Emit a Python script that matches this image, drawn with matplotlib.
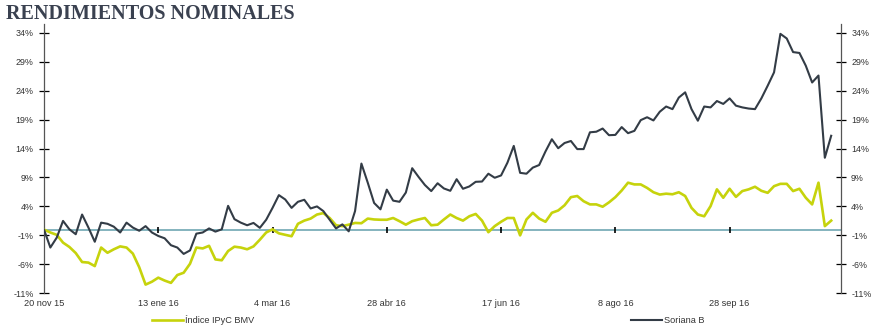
"""Rendimientos nominales: IPyC BMV vs Soriana B."""

# %%
import matplotlib.pyplot as plt
import numpy as np

# %% Data (one value every 2nd trading session)

fechas = ["20 nov 15", "13 ene 16", "4 mar 16", "28 abr 16",
          "17 jun 16", "8 ago 16", "28 sep 16"]
fecha_idx = [0, 36, 72, 108, 144, 180, 216]
sesiones = np.arange(0, 250, 2)

ipyc = [
    0.0, -0.5, -0.9, -2.25, -3.0, -4.05, -5.6, -5.7, -6.3, -3.1, -4.0, -3.4,
    -2.9, -3.1, -4.15, -6.5, -9.5, -9.0, -8.3, -8.8, -9.2, -7.85, -7.45, -5.9,
    -3.1, -3.25, -2.8, -5.15, -5.3, -3.7, -2.95, -3.1,
    -3.4, -2.9, -1.75, -0.5, 0.05, -0.65, -0.9, -1.15, 1.0, 1.55, 1.9, 2.6,
    2.85, 2.0, 0.75, 0.6, 0.85, 1.15, 1.1, 1.9, 1.75, 1.7, 1.7, 2.0,
    1.45, 0.85, 1.45, 1.75, 2.0, 0.75, 0.85, 1.75,
    2.6, 2.0, 1.55, 2.3, 2.7, 1.55, -0.45, 0.6, 1.35, 2.0, 2.0, -1.0,
    1.75, 2.9, 1.9, 1.35, 2.9, 3.3, 4.2, 5.6, 5.8, 4.9, 4.35, 4.35,
    3.95, 4.7, 5.6, 6.75, 8.1, 7.8, 7.8,
    7.2, 6.45, 6.05, 6.2, 6.1, 6.45, 5.8, 3.75, 2.6, 2.3, 4.05, 6.95,
    5.5, 7.05, 5.65, 6.65, 6.95, 7.4, 6.7, 6.35, 7.5, 7.9, 7.9, 6.65,
    7.05, 5.5, 4.35, 8.1, 0.6, 1.55,
]

soriana = [
    0.0, -3.1, -1.4, 1.5, 0.05, -0.8, 2.6, 0.35, -2.1, 1.2, 1.0, 0.5,
    -0.5, 1.2, 0.35, -0.2, 0.6, -0.5, -1.1, -1.5, -2.7, -3.1, -4.2, -3.6,
    -0.7, -0.5, 0.2, -0.35, 0.05, 4.1, 1.8, 1.2,
    0.75, 1.15, 0.3, 1.7, 3.75, 5.95, 5.2, 3.75, 4.8, 5.15, 3.65, 4.0,
    3.2, 1.7, 0.2, 0.9, -0.3, 3.2, 11.4, 8.1, 4.6, 3.5, 6.9, 5.0,
    4.8, 6.4, 10.6, 9.1, 7.7, 6.65, 8.0, 7.1,
    6.7, 8.7, 7.05, 7.45, 8.25, 8.3, 9.65, 8.95, 9.35, 11.55, 14.45, 9.8,
    9.65, 10.7, 11.15, 13.5, 15.6, 14.05, 14.95, 15.3, 13.9, 13.9, 16.8, 16.9,
    17.45, 16.3, 16.35, 17.7, 16.65, 17.05, 18.9,
    19.4, 18.85, 20.35, 21.25, 20.8, 22.8, 23.7, 20.8, 18.8, 21.25, 21.1, 22.2,
    21.7, 22.65, 21.4, 21.1, 20.9, 20.8, 22.65, 24.85, 27.15, 33.8, 33.0, 30.65,
    30.5, 28.3, 25.4, 26.6, 12.4, 16.2,
]

yticks = np.arange(-11, 35, 5)

# %% Plotting
plt.rcParams["font.family"] = ["Liberation Sans", "DejaVu Sans"]

fig = plt.figure(figsize=(8.75, 3.35), dpi=100)
ax = fig.add_axes([44 / 875, 1 - 293.3 / 335, 796.7 / 875, 269.3 / 335])

ax.axhline(0, color="#6fa7b3", lw=1.2, zorder=1)
ax.plot(fecha_idx, np.zeros(len(fecha_idx)), ls="none", marker="|",
        ms=4, mew=1.2, color="black", zorder=2)

ax.plot(sesiones, ipyc, color="#c6d30c", lw=1.9, label="Índice IPyC BMV",
        solid_joinstyle="round", zorder=3)
ax.plot(sesiones, soriana, color="#333c46", lw=1.5, label="Soriana B",
        solid_joinstyle="round", zorder=4)

ax.set_xlim(0, 251)
ax.set_ylim(-11, 35.5)
ax.set_yticks(yticks)
ax.set_yticklabels([f"{v}%" for v in yticks])
ax.set_xticks(fecha_idx)
ax.set_xticklabels(fechas)

for side in ["top", "bottom"]:
    ax.spines[side].set_visible(False)
for side in ["left", "right"]:
    ax.spines[side].set_color("#555555")
    ax.spines[side].set_linewidth(0.9)

ax.tick_params(axis="y", direction="inout", length=7, width=0.9,
               labelsize=6.4, labelcolor="#333333", right=True,
               labelright=True, pad=4)
ax.tick_params(axis="x", length=0, labelsize=6.6, labelcolor="#333333",
               pad=4)

handles, labels = ax.get_legend_handles_labels()
fig.legend(handles, labels, loc="center left",
           bbox_to_anchor=(152 / 875, 1 - 320 / 335), ncol=2,
           frameon=False, fontsize=6.6, handlelength=3.4,
           handletextpad=0.25, columnspacing=41, borderpad=0,
           borderaxespad=0, labelcolor="#333333")

fig.text(6 / 875, 1 - 4 / 335, "RENDIMIENTOS NOMINALES",
         family=["Liberation Serif", "DejaVu Serif"], weight="bold",
         fontsize=14.5, color="#3a4150", va="top", ha="left")

fig.savefig("out.png", dpi=100)
